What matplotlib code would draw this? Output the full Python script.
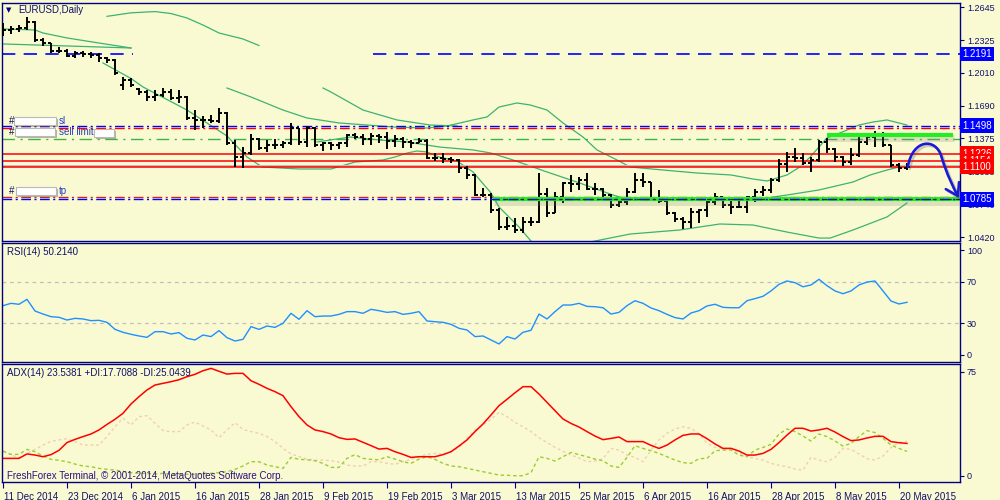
import numpy as np
import matplotlib.pyplot as plt
import matplotlib.patheffects as pe
import matplotlib.transforms as mtransforms
from matplotlib.path import Path
from matplotlib.patches import FancyArrowPatch, Rectangle

plt.rcParams['font.family'] = ['Liberation Sans', 'DejaVu Sans']

# EURUSD daily bars, 11 Dec 2014 .. 21 May 2015
opens = [1.2406, 1.2423, 1.2430, 1.2439, 1.2503, 1.2326, 1.2294, 1.2223, 1.2223, 1.2171,
         1.2197, 1.2191, 1.2181, 1.2149, 1.2133, 1.1891, 1.1939, 1.1855, 1.1826, 1.1778,
         1.1794, 1.1826, 1.1762, 1.1778, 1.1569, 1.1553, 1.1553, 1.1546, 1.1617, 1.1327,
         1.1198, 1.1231, 1.1366, 1.1279, 1.1311, 1.1311, 1.1327, 1.1472, 1.1343, 1.1472,
         1.1311, 1.1327, 1.1311, 1.1327, 1.1408, 1.1391, 1.1366, 1.1398, 1.1385, 1.1352,
         1.1366, 1.1343, 1.1333, 1.1352, 1.1182, 1.1182, 1.1173, 1.1166, 1.1085, 1.1021,
         1.0827, 1.0827, 1.0682, 1.0521, 1.0528, 1.0489, 1.0568, 1.0569, 1.0840, 1.0657,
         1.0811, 1.0940, 1.0929, 1.0970, 1.0885, 1.0890, 1.0830, 1.0730, 1.0763, 1.0859,
         1.0972, 1.0950, 1.0795, 1.0772, 1.0650, 1.0600, 1.0569, 1.0666, 1.0680, 1.0760,
         1.0805, 1.0731, 1.0714, 1.0708, 1.0805, 1.0859, 1.0876, 1.0972, 1.1130, 1.1198,
         1.1182, 1.1134, 1.1166, 1.1340, 1.1269, 1.1198, 1.1149, 1.1210, 1.1343, 1.1391,
         1.1408, 1.1311, 1.1117, 1.1085]
highs = [1.2488, 1.2462, 1.2471, 1.2552, 1.2510, 1.2343, 1.2300, 1.2261, 1.2236, 1.2223,
         1.2223, 1.2213, 1.2197, 1.2165, 1.2140, 1.1971, 1.1956, 1.1859, 1.1843, 1.1843,
         1.1859, 1.1849, 1.1843, 1.1785, 1.1649, 1.1591, 1.1601, 1.1666, 1.1633, 1.1359,
         1.1294, 1.1417, 1.1376, 1.1359, 1.1366, 1.1352, 1.1521, 1.1480, 1.1495, 1.1488,
         1.1343, 1.1343, 1.1343, 1.1417, 1.1430, 1.1417, 1.1430, 1.1417, 1.1439, 1.1408,
         1.1385, 1.1359, 1.1376, 1.1366, 1.1236, 1.1236, 1.1198, 1.1173, 1.1108, 1.1030,
         1.0892, 1.0850, 1.0699, 1.0618, 1.0602, 1.0618, 1.0618, 1.1037, 1.0892, 1.0860,
         1.0956, 1.1021, 1.1004, 1.1037, 1.0940, 1.0895, 1.0840, 1.0811, 1.0892, 1.1037,
         1.1037, 1.0955, 1.0876, 1.0779, 1.0666, 1.0618, 1.0699, 1.0689, 1.0795, 1.0844,
         1.0811, 1.0786, 1.0779, 1.0818, 1.0882, 1.0914, 1.0989, 1.1173, 1.1246, 1.1279,
         1.1231, 1.1198, 1.1359, 1.1376, 1.1279, 1.1205, 1.1279, 1.1391, 1.1408, 1.1449,
         1.1439, 1.1315, 1.1140, 1.1134]
lows = [1.2365, 1.2384, 1.2406, 1.2423, 1.2310, 1.2268, 1.2203, 1.2203, 1.2159, 1.2149,
        1.2165, 1.2149, 1.2116, 1.2101, 1.1988, 1.1843, 1.1875, 1.1794, 1.1739, 1.1739,
        1.1772, 1.1746, 1.1720, 1.1553, 1.1456, 1.1472, 1.1521, 1.1526, 1.1311, 1.1101,
        1.1086, 1.1214, 1.1263, 1.1246, 1.1269, 1.1279, 1.1311, 1.1311, 1.1289, 1.1294,
        1.1256, 1.1263, 1.1269, 1.1289, 1.1366, 1.1311, 1.1311, 1.1327, 1.1269, 1.1289,
        1.1279, 1.1279, 1.1327, 1.1173, 1.1159, 1.1140, 1.1140, 1.1043, 1.0979, 1.0818,
        1.0805, 1.0656, 1.0489, 1.0489, 1.0457, 1.0463, 1.0528, 1.0555, 1.0612, 1.0650,
        1.0747, 1.0859, 1.0876, 1.0876, 1.0827, 1.0779, 1.0699, 1.0714, 1.0731, 1.0850,
        1.0908, 1.0779, 1.0747, 1.0634, 1.0569, 1.0496, 1.0505, 1.0554, 1.0618, 1.0731,
        1.0699, 1.0644, 1.0699, 1.0650, 1.0763, 1.0818, 1.0850, 1.0956, 1.1053, 1.1149,
        1.1117, 1.1053, 1.1149, 1.1231, 1.1149, 1.1108, 1.1117, 1.1198, 1.1311, 1.1294,
        1.1289, 1.1101, 1.1053, 1.1069]
closes = [1.2423, 1.2430, 1.2439, 1.2503, 1.2326, 1.2294, 1.2223, 1.2223, 1.2171, 1.2197,
          1.2191, 1.2181, 1.2149, 1.2133, 1.2004, 1.1939, 1.1891, 1.1826, 1.1778, 1.1794,
          1.1826, 1.1762, 1.1778, 1.1569, 1.1553, 1.1553, 1.1546, 1.1617, 1.1327, 1.1198,
          1.1231, 1.1366, 1.1279, 1.1311, 1.1311, 1.1327, 1.1472, 1.1343, 1.1472, 1.1311,
          1.1327, 1.1311, 1.1327, 1.1408, 1.1391, 1.1366, 1.1398, 1.1385, 1.1352, 1.1366,
          1.1343, 1.1333, 1.1352, 1.1182, 1.1182, 1.1173, 1.1166, 1.1085, 1.1021, 1.0827,
          1.0827, 1.0682, 1.0521, 1.0528, 1.0489, 1.0568, 1.0569, 1.0840, 1.0657, 1.0811,
          1.0940, 1.0929, 1.0970, 1.0885, 1.0890, 1.0830, 1.0730, 1.0763, 1.0859, 1.0972,
          1.0950, 1.0795, 1.0772, 1.0650, 1.0600, 1.0569, 1.0666, 1.0680, 1.0760, 1.0805,
          1.0731, 1.0714, 1.0708, 1.0805, 1.0859, 1.0876, 1.0972, 1.1130, 1.1198, 1.1182,
          1.1134, 1.1166, 1.1340, 1.1269, 1.1198, 1.1149, 1.1210, 1.1343, 1.1391, 1.1408,
          1.1311, 1.1117, 1.1085, 1.1100]

date_labels = ['11 Dec 2014', '23 Dec 2014', '6 Jan 2015', '16 Jan 2015', '28 Jan 2015',
               '9 Feb 2015', '19 Feb 2015', '3 Mar 2015', '13 Mar 2015', '25 Mar 2015',
               '6 Apr 2015', '16 Apr 2015', '28 Apr 2015', '8 May 2015', '20 May 2015']
label_bars = list(range(0, 113, 8))

# band lines as drawn on the chart (bar index, price)
band_u1_x = [13, 16, 19, 21, 23, 25, 27, 30, 32]
band_u1_y = [1.2555, 1.2589, 1.2601, 1.2582, 1.2539, 1.2471, 1.2394, 1.2336, 1.2273]
band_m0_x = [0, 4, 5, 8, 12, 16]
band_m0_y = [1.2433, 1.2423, 1.2394, 1.2346, 1.2297, 1.2249]
band_l0_x = [0, 16]
band_l0_y = [1.2288, 1.2249]
band_l1_x = [12.5, 16, 17.5, 23, 28, 30.5, 32.4, 37, 41, 44, 47.5, 49, 50.5, 51.75, 53,
             54.5, 56.75, 58.75, 61, 62, 64.5, 66.1]
band_l1_y = [1.2104, 1.1954, 1.1872, 1.1649, 1.1398, 1.1195, 1.1098, 1.1079, 1.1079, 1.1146,
             1.1166, 1.1195, 1.1233, 1.1253, 1.1243, 1.1195, 1.1156, 1.1050, 1.0847, 1.0711,
             1.0518, 1.0373]
band_l2_x = [73.4, 78.4, 84.6, 89.6, 93.75, 98, 102, 103.4, 106.25, 110.5, 113]
band_l2_y = [1.0373, 1.0450, 1.0489, 1.0547, 1.0537, 1.0469, 1.0411, 1.0411, 1.0489, 1.0615, 1.0750]
band_u2_x = [28, 31, 35, 38, 42, 45.5, 48.75, 53, 55.5, 58.75, 60.5, 62, 64.25, 65.9, 68, 70,
             72.5, 74.25, 76.75, 78.4, 82.5, 86.75, 91, 93.75, 95.5, 98, 99.6, 100.9, 102,
             103, 104.6, 107, 108.75, 110.5, 113]
band_u2_y = [1.1862, 1.1775, 1.1649, 1.1572, 1.1524, 1.1504, 1.1485, 1.1475, 1.1495, 1.1553,
             1.1582, 1.1678, 1.1717, 1.1698, 1.1649, 1.1524, 1.1388, 1.1263, 1.1166, 1.1098,
             1.1069, 1.1040, 1.1021, 1.0982, 1.0963, 1.1021, 1.1098, 1.1195, 1.1292, 1.1379,
             1.1427, 1.1504, 1.1533, 1.1553, 1.1504]
band_m1_x = [40, 41, 45, 49.25, 53.4, 56.75]
band_m1_y = [1.1862, 1.1823, 1.1649, 1.1553, 1.1504, 1.1495]
band_m2_x = [39.25, 43.4, 47.1, 50.5, 54.6, 58.75, 61, 63.75, 68, 72.1, 76.25, 78.4, 82.5,
             87, 91, 93.75, 98, 102, 106.25, 108.4, 110.5, 113]
band_m2_y = [1.1340, 1.1388, 1.1359, 1.1340, 1.1291, 1.1263, 1.1233, 1.1166, 1.1050, 1.0943,
             1.0827, 1.0779, 1.0789, 1.0779, 1.0779, 1.0779, 1.0827, 1.0876, 1.0953, 1.1021,
             1.1069, 1.1117]

rsi = [47, 49.2, 48.3, 53, 41.9, 39, 36.5, 35.9, 33.3, 34.9,
       34.3, 32.7, 33, 31.1, 24.4, 21.6, 19.7, 18.1, 16.8, 22.2,
       22.2, 20, 21.3, 15.9, 14.3, 19, 17.5, 23.2, 16.5, 13.3,
       14.9, 27, 24.4, 27.6, 26.3, 30.2, 39.7, 34, 42.2, 36.5,
       37.1, 37.1, 38.7, 41.3, 41.3, 39.7, 43.5, 42.2, 40.6, 41.3,
       38.7, 39.7, 41.3, 32.4, 31.7, 31.1, 29.2, 25.4, 23.8, 17.5,
       18.1, 14.3, 10.5, 17.5, 15.2, 21.6, 23.5, 39, 34.3, 41.3,
       47.6, 47.6, 49.2, 46.3, 46, 45, 39, 40.6, 47, 51.7,
       49.2, 44.8, 42.2, 38.7, 35.6, 34.3, 40, 42.2, 46.7, 48.3,
       45.4, 45, 45, 51.7, 53.7, 55.9, 61, 67.3, 70.5, 68.9,
       65, 66.7, 72.1, 66, 61, 58.4, 61, 66.7, 69.5, 70.5,
       61, 51.4, 48.6, 50.2]
adx = [12.7, 12.7, 12.7, 15.9, 15.1, 13.9, 15.4, 18.5, 24.1, 26.4,
       28.4, 30.3, 33.2, 37.2, 40.9, 45.2, 51.9, 57.2, 62, 65.6,
       66.8, 68, 69.4, 71.6, 73.3, 75.9, 77.6, 75.5, 73.5, 74,
       74, 68.7, 66.1, 63.2, 60.8, 57.9, 50, 42.8, 36.8, 33.2,
       32, 30.3, 27.6, 26.4, 26.7, 24.3, 21.9, 19.4, 19.9, 17.5,
       15.6, 13.4, 13.9, 13.9, 13.9, 15.4, 17.5, 21.6, 26, 32,
       37.5, 44, 50.7, 55.3, 60, 64.4, 64.4, 59.1, 53.1, 47.1,
       41.1, 37.9, 35.3, 32, 28.8, 26.2, 27.1, 28.1, 24.8, 24.8,
       24.8, 22.1, 19.9, 22.3, 26, 29.3, 30.3, 30.3, 26.9, 23.1,
       19.9, 19.9, 18, 15.1, 15.1, 16.3, 19.2, 24.1, 29.5, 34.4,
       34.4, 32.4, 33.2, 34.4, 31.7, 28.4, 25.5, 26, 27.4, 28.6,
       28.6, 24.8, 24, 23.5]
plus_di = [17.8, 15.6, 15.6, 19.2, 17.5, 14.4, 12, 11.3, 10.3, 8.6,
           7.2, 6.7, 5.5, 4.8, 4.3, 3.4, 2.4, 1.9, 1.9, 1.4,
           1.9, 1.4, 1.4, 1.2, 1.2, 1.9, 1.9, 2.4, 3.1, 4.8,
           7.2, 10.3, 10.3, 7.9, 6.7, 5.5, 13.4, 12, 11.7, 11,
           9.1, 6.2, 6.2, 12.7, 15.4, 12.7, 12, 11.7, 13.9, 12.2,
           10.3, 9.1, 12.2, 13.9, 12, 9.1, 7.2, 6.7, 5.5, 4.3,
           3.1, 1.9, 0.7, 0.5, 0.2, 0.2, 2.4, 13.9, 12.7, 10.8,
           13.9, 17, 15.4, 13.9, 12.2, 11, 7.2, 6.2, 13.4, 21.8,
           19.9, 18.2, 16.3, 13.9, 11.5, 9.6, 9.1, 12.5, 12.7, 18.2,
           18.7, 18.7, 15.1, 13.9, 18.7, 20.6, 22.8, 30.3, 33.9, 32,
           28.8, 25.2, 30.3, 28.4, 25.2, 21.6, 23.5, 28.4, 32.7, 31.3,
           27.2, 22.3, 19.9, 17.7]
minus_di = [18.3, 15.1, 13.2, 16.3, 19.2, 22.3, 25, 26, 26.9, 24.8,
            22.3, 22.3, 22.3, 28.4, 35.5, 41.6, 36.8, 42.8, 43.5, 38,
            32.7, 32, 32, 36.8, 38.9, 36, 33.2, 27.6, 33.2, 38.4,
            33.6, 32, 30.8, 28.4, 24.8, 19.9, 15.9, 14, 12.2, 11.5,
            11.5, 11, 10.1, 7.9, 7.2, 7.2, 10.3, 10.3, 9.1, 8.4,
            10.3, 12, 13.9, 15.6, 16.3, 15.6, 17.5, 20.6, 27.1, 33.2,
            36.8, 40.9, 45.9, 42.8, 38.7, 35.5, 32, 27.6, 24.1, 20.6,
            17.8, 15.1, 13, 10.3, 10.8, 12.5, 19.9, 18.7, 15.1, 13.4,
            10.3, 18.7, 26, 30.8, 33.9, 35.5, 34.4, 30.3, 23.6, 20.6,
            19.9, 19.9, 16.8, 13.9, 12.7, 11.5, 9.1, 7.7, 6.7, 5,
            4.3, 13.4, 11.5, 10.3, 13.4, 19.9, 19.2, 15.9, 12.5, 11.5,
            14.4, 20.6, 24.1, 25.0]

# order levels
stop_level = 1.1498
stop_red = 1.1475
sell_limit = 1.1369
resist_level = 1.1410
red_levels = [1.1226, 1.1154, 1.1100]
tp_level = 1.0785
tp_red = 1.0810
old_level = 1.2191

bg = '#fafad2'
navy = '#000080'
txt = '#10106a'
fs = 6.5

fig = plt.figure(figsize=(10, 5), dpi=100, facecolor=bg)


def px_axes(left, top, right, bottom):
    return fig.add_axes([left / 1000, 1 - bottom / 500, (right - left) / 1000, (bottom - top) / 500])


ax = px_axes(2, 3, 960, 241)
ax_rsi = px_axes(2, 243, 960, 362)
ax_adx = px_axes(2, 364, 960, 482)

for a in (ax, ax_rsi, ax_adx):
    a.set_facecolor(bg)
    a.set_xlim(-0.125, 119.625)
    for s in a.spines.values():
        s.set_color(navy)
        s.set_linewidth(1.0)
    a.yaxis.tick_right()
    a.tick_params(axis='y', direction='out', length=3, width=0.8, color=navy,
                  labelsize=fs, labelcolor=txt, pad=2)
    a.tick_params(axis='x', bottom=False, labelbottom=False)

# ---- main price panel
x = np.arange(len(closes))
ax.set_ylim(1.03825, 1.2684)
price_ticks = [1.2645, 1.2325, 1.2010, 1.1690, 1.1375, 1.1055, 1.0740, 1.0420]
ax.set_yticks(price_ticks)
ax.set_yticklabels(['%.4f' % p for p in price_ticks])

green = '#3cb371'
for bx, by in [(band_u1_x, band_u1_y), (band_m0_x, band_m0_y), (band_l0_x, band_l0_y),
               (band_l1_x, band_l1_y), (band_l2_x, band_l2_y), (band_u2_x, band_u2_y),
               (band_m1_x, band_m1_y), (band_m2_x, band_m2_y)]:
    ax.plot(bx, by, color=green, lw=0.9, zorder=1.5)

dashdot = (0, (7, 2.5, 1.5, 2.5))
ax.hlines([old_level, old_level], [-0.125, 46.25], [16.25, 119.625], color='#0000ff', lw=1.2,
          linestyles=[(0, (8, 5))], zorder=2)
ax.axhline(stop_level, color='#0000ff', lw=1.0, ls=dashdot, zorder=2)
ax.axhline(stop_red, color='#ff0000', lw=1.0, ls=dashdot, zorder=2)
ax.axhline(sell_limit, color='#3cb34a', lw=1.0, ls=(0, (9, 4, 1.5, 4)), zorder=2)
ax.axhline(1.1104, color='#c0c0c0', lw=1.5, zorder=2)
for lv in red_levels:
    ax.axhline(lv, color='#ff0000', lw=1.1, zorder=2)
ax.axhline(tp_red, color='#d02020', lw=1.0, ls=dashdot, zorder=2)

ax.vlines(x, lows, highs, color='black', lw=1.4, zorder=3)
ax.hlines(opens, x - 0.42, x, color='black', lw=1.4, zorder=3)
ax.hlines(closes, x, x + 0.42, color='black', lw=1.4, zorder=3)

shadow = [pe.SimpleLineShadow(offset=(1, -2), shadow_color='#808070', alpha=0.22, linewidth=5),
          pe.Normal()]
ax.hlines(tp_level, 61.25, 119.6, color='#22ee22', lw=3, zorder=4, path_effects=shadow)
ax.hlines(resist_level, 103.0, 118.7, color='#22ee22', lw=3, zorder=4, path_effects=shadow)
ax.axhline(tp_level, color='#0000ff', lw=1.0, ls=dashdot, zorder=4.5)
ax.axhline(tp_level, color='#202020', lw=0.8, ls=(3, (3, 4)), zorder=4.6, xmin=0.52)

# forecast arrow from the last close up to resistance, then down to tp
last = len(closes) - 1
verts = [(last + 0.1, closes[-1]), (last + 0.7, 1.1370), (last + 3.6, 1.1385), (last + 4.3, 1.1200),
         (last + 5.0, 1.1020), (last + 5.8, 1.0900), (119.5, tp_level + 0.0012)]
codes = [Path.MOVETO, Path.CURVE4, Path.CURVE4, Path.CURVE4, Path.CURVE4, Path.CURVE4, Path.CURVE4]
arrow = FancyArrowPatch(path=Path(verts, codes), arrowstyle='->,head_length=0.7,head_width=0.45',
                        mutation_scale=12, edgecolor='#1a1ad8', facecolor='none', fill=False,
                        lw=1.9, zorder=6,
                        path_effects=[pe.SimpleLineShadow(offset=(1.5, -1.5), shadow_color='#606060',
                                                          alpha=0.3), pe.Normal()])
ax.add_patch(arrow)

ytr = ax.get_yaxis_transform()
box_labels = [(old_level, '#0000ff'), (stop_level, '#0000ff'), (red_levels[0], '#ff0000'),
              (red_levels[1], '#ff0000'), (red_levels[2], '#ff0000'), (tp_level, '#0000ff')]
for lv, col in box_labels:
    ax.text(1.0025, lv, '%.4f' % lv, transform=ytr, fontsize=fs + 0.5, color='white',
            va='center', ha='left', zorder=10,
            bbox=dict(boxstyle='square,pad=0.25', fc=col, ec='none'))

# chart title and order labels
fig.text(0.006, 1 - 10 / 500, '\u25bc', fontsize=5, color=navy, va='center',
         family='DejaVu Sans')
fig.text(0.018, 1 - 10 / 500, 'EURUSD,Daily', fontsize=fs + 0.5, color=txt, va='center')


def redacted(x0, y0, x1, y1):
    r = Rectangle((x0 / 1000, 1 - y1 / 500), (x1 - x0) / 1000, (y1 - y0) / 500,
                  transform=fig.transFigure, fc='white', ec='#b8b8b8', lw=0.8, zorder=20,
                  path_effects=[pe.SimplePatchShadow(offset=(1.5, -1.5), shadow_rgbFace='#606060', alpha=0.45),
                                pe.Normal()])
    fig.add_artist(r)


for yc in (121, 132, 191):
    fig.text(0.009, 1 - yc / 500, '#', fontsize=fs + 0.5, color=txt, va='center', zorder=21)
redacted(14, 117, 56, 125)
redacted(15, 128, 55, 136)
redacted(94, 129, 114, 137)
redacted(16, 187, 56, 195)
fig.text(0.059, 1 - 121 / 500, 'sl', fontsize=fs + 0.5, color='#2040c8', va='center', zorder=21)
fig.text(0.059, 1 - 132 / 500, 'sell limit', fontsize=fs + 0.5, color='#2040c8', va='center', zorder=21)
fig.text(0.059, 1 - 191 / 500, 'tp', fontsize=fs + 0.5, color='#2040c8', va='center', zorder=21)

# ---- RSI panel
ax_rsi.set_ylim(-6.7, 106.7)
ax_rsi.set_yticks([100, 70, 30, 0])
ax_rsi.axhline(70, color='#c0c0c0', lw=0.9, ls=(0, (3, 3)))
ax_rsi.axhline(30, color='#c0c0c0', lw=0.9, ls=(0, (3, 3)))
ax_rsi.plot(x, rsi, color='#1e90ff', lw=1.0)
ax_rsi.text(0.005, 0.925, 'RSI(14) %.4f' % 50.2140, transform=ax_rsi.transAxes,
            fontsize=fs + 0.5, color=txt, va='center')

# ---- ADX panel
ax_adx.set_ylim(-4.33, 80.75)
ax_adx.set_yticks([75, 0])
ax_adx.plot(x, minus_di, color='#f2cdb4', lw=1.0, ls=(0, (2, 2)))
ax_adx.plot(x, plus_di, color='#9acd32', lw=1.0, ls=(0, (2.5, 2)))
ax_adx.plot(x, adx, color='#ff0000', lw=1.1)
ax_adx.text(0.005, 0.92, 'ADX(14) 23.5381 +DI:17.7088 -DI:25.0439', transform=ax_adx.transAxes,
            fontsize=fs + 0.5, color=txt, va='center')
ax_adx.text(0.005, 0.05, 'FreshForex Terminal, \u00a9 2001-2014, MetaQuotes Software Corp.',
            transform=ax_adx.transAxes, fontsize=fs + 0.5, color='#2a1080', va='center')

ax_adx.set_xticks(label_bars)
ax_adx.set_xticklabels(date_labels, ha='left')
ax_adx.tick_params(axis='x', bottom=True, labelbottom=True, direction='out', length=4,
                   width=0.8, color=navy, labelsize=fs + 0.5, labelcolor=txt, pad=3)
offset = mtransforms.ScaledTranslation(1.5 / 100, 0, fig.dpi_scale_trans)
for lbl in ax_adx.get_xticklabels():
    lbl.set_transform(lbl.get_transform() + offset)

fig.savefig('out.png', dpi=100, facecolor=bg)
